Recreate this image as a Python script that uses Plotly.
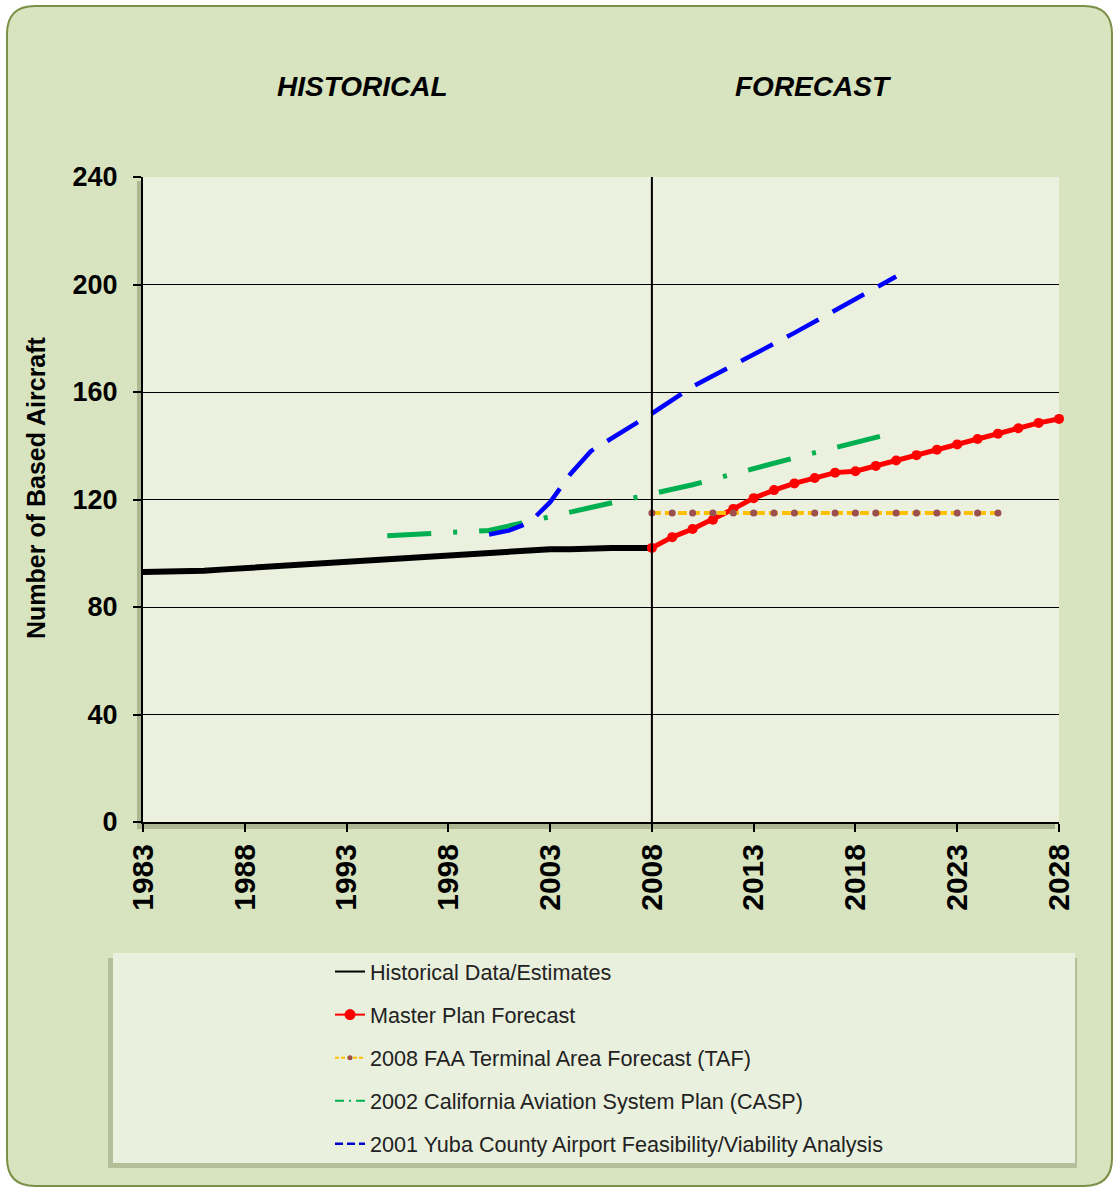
import plotly.graph_objects as go

# ---------------- data ----------------
hist_years = list(range(1983, 2009))
hist_vals = [93, 93, 93, 93.5, 94, 94.5, 94.5, 95, 95.5, 96,
             96.5, 97.5, 98, 98.5, 99, 99.5, 100, 100, 100.5, 101,
             101.5, 101.5, 102, 102, 102, 102]

master_years = list(range(2008, 2029))
master_vals = [102, 106, 109, 112.5, 116.5, 120.5, 123.5, 126, 128, 130,
               130.5, 132.5, 134.5, 136.5, 138.5, 140.5, 142.5, 144.5, 146.5, 148.5, 150]

taf_years = list(range(2008, 2026))
taf_vals = [115, 115, 115, 115, 115, 115, 115, 115, 115,
            115, 115, 115, 115, 115, 115, 115, 115, 115]

casp_years = [1995, 2000, 2005, 2010, 2015, 2020]
casp_vals = [106.5, 108.5, 117, 125.5, 135.5, 145]

yuba_years = [2000, 2001, 2002, 2003, 2004, 2005, 2008, 2010, 2015, 2020]
yuba_vals = [107, 108.5, 111.5, 119, 129.5, 138, 152, 162, 182, 203]

x_ticks = [1983, 1988, 1993, 1998, 2003, 2008, 2013, 2018, 2023, 2028]
y_ticks = [0, 40, 80, 120, 160, 200, 240]
grid_vals = [40, 80, 120, 160, 200]
divider_year = 2008

names = ["Historical Data/Estimates", "Master Plan Forecast",
         "2008 FAA Terminal Area Forecast (TAF)",
         "2002 California Aviation System Plan (CASP)",
         "2001 Yuba County Airport Feasibility/Viability Analysis"]

# ---------------- geometry helpers (pixels -> paper) ----------------
W, H = 1115, 1188
ML, MR, MT, MB = 143, 56, 177, 366
PW, PH = W - ML - MR, H - MT - MB


def px(x):
    return (x - ML) / PW


def py(y):
    return (H - MB - y) / PH


def rounded_rect(x0, y0, x1, y1, r):
    pts = [
        f"M {px(x0 + r)},{py(y0)}",
        f"L {px(x1 - r)},{py(y0)}",
        f"Q {px(x1)},{py(y0)} {px(x1)},{py(y0 + r)}",
        f"L {px(x1)},{py(y1 - r)}",
        f"Q {px(x1)},{py(y1)} {px(x1 - r)},{py(y1)}",
        f"L {px(x0 + r)},{py(y1)}",
        f"Q {px(x0)},{py(y1)} {px(x0)},{py(y1 - r)}",
        f"L {px(x0)},{py(y0 + r)}",
        f"Q {px(x0)},{py(y0)} {px(x0 + r)},{py(y0)}",
        "Z",
    ]
    return " ".join(pts)


FONT = "Liberation Sans, Arial, sans-serif"

COL_HIST = "#000000"
COL_MASTER = "#ff0000"
COL_TAF = "#ffc000"
COL_TAF_MK = "#9b4f4f"
COL_CASP = "#00b050"
COL_YUBA = "#0000ff"

fig = go.Figure()

# ---- data traces ----
fig.add_trace(go.Scatter(
    x=hist_years, y=hist_vals, name=names[0], mode="lines", showlegend=False,
    line=dict(color=COL_HIST, width=6), cliponaxis=False))

fig.add_trace(go.Scatter(
    x=master_years, y=master_vals, name=names[1], mode="lines+markers", showlegend=False,
    line=dict(color=COL_MASTER, width=5),
    marker=dict(color=COL_MASTER, size=10, symbol="circle"), cliponaxis=False))

fig.add_trace(go.Scatter(
    x=taf_years, y=taf_vals, name=names[2], mode="lines+markers", showlegend=False,
    line=dict(color=COL_TAF, width=4, dash="9px,4px"),
    marker=dict(color=COL_TAF_MK, size=7, symbol="circle"), cliponaxis=False))

fig.add_trace(go.Scatter(
    x=casp_years, y=casp_vals, name=names[3], mode="lines", showlegend=False,
    line=dict(color=COL_CASP, width=5, dash="44px,22px,4px,22px"), cliponaxis=False))

fig.add_trace(go.Scatter(
    x=yuba_years, y=yuba_vals, name=names[4], mode="lines", showlegend=False,
    line=dict(color=COL_YUBA, width=4.5, dash="36px,16px"), cliponaxis=False))

# ---- legend entries (thin line samples, as in the original legend) ----
legend_styles = [
    dict(mode="lines", line=dict(color=COL_HIST, width=2)),
    dict(mode="lines+markers", line=dict(color=COL_MASTER, width=2),
         marker=dict(color=COL_MASTER, size=11)),
    dict(mode="lines+markers", line=dict(color=COL_TAF, width=2, dash="4px,2px"),
         marker=dict(color=COL_TAF_MK, size=5)),
    dict(mode="lines", line=dict(color=COL_CASP, width=2, dash="9px,5px,2px,5px")),
    dict(mode="lines", line=dict(color="#0000cc", width=2.5, dash="8px,4px")),
]
for i, (nm, st) in enumerate(zip(names, legend_styles)):
    fig.add_trace(go.Scatter(x=[None], y=[None], name=nm, legendgroup=f"g{i}",
                             hoverinfo="skip", **st))

# gridline overlay axis (no line at top of plot)
fig.add_trace(go.Scatter(x=[x_ticks[0]], y=[0], yaxis="y2", mode="markers",
                         marker=dict(opacity=0), showlegend=False, hoverinfo="skip"))

shapes = [
    # outer rounded panel
    dict(type="path", xref="paper", yref="paper", layer="below",
         path=rounded_rect(7, 6, 1112, 1186, 28),
         fillcolor="#d8e3bf", line=dict(color="#7b8f47", width=2)),
    # plot shadow
    dict(type="rect", xref="paper", yref="paper", layer="below",
         x0=px(137), x1=px(1055), y0=py(829), y1=py(181),
         fillcolor="rgba(70,80,40,0.30)", line=dict(width=0)),
    # plot background
    dict(type="rect", xref="paper", yref="paper", layer="below",
         x0=0, x1=1, y0=0, y1=1, fillcolor="#ebf0df", line=dict(width=0)),
    # legend shadow
    dict(type="rect", xref="paper", yref="paper", layer="below",
         x0=px(108), x1=px(1077), y0=py(1168), y1=py(958),
         fillcolor="rgba(70,80,40,0.25)", line=dict(width=0)),
    # legend box
    dict(type="rect", xref="paper", yref="paper", layer="below",
         x0=px(113), x1=px(1075), y0=py(1163), y1=py(953),
         fillcolor="#e9f0dd", line=dict(width=0)),
    # divider between historical and forecast
    dict(type="line", xref="x", yref="paper", x0=divider_year, x1=divider_year,
         y0=0, y1=1, line=dict(color="#000000", width=2)),
]

annotations = [
    dict(text="<b><i>HISTORICAL</i></b>", xref="paper", yref="paper",
         x=px(362), y=py(87), xanchor="center", yanchor="middle", showarrow=False,
         font=dict(family=FONT, size=28, color="#000000")),
    dict(text="<b><i>FORECAST</i></b>", xref="paper", yref="paper",
         x=px(813), y=py(87), xanchor="center", yanchor="middle", showarrow=False,
         font=dict(family=FONT, size=28, color="#000000")),
    dict(text="<b>Number of Based Aircraft</b>", xref="paper", yref="paper",
         x=px(36), y=py(488), xanchor="center", yanchor="middle", showarrow=False,
         textangle=-90, font=dict(family=FONT, size=25, color="#000000")),
]

fig.update_layout(
    width=W, height=H,
    margin=dict(l=ML, r=MR, t=MT, b=MB, pad=0),
    paper_bgcolor="#ffffff", plot_bgcolor="rgba(0,0,0,0)",
    font=dict(family=FONT, color="#000000"),
    shapes=shapes, annotations=annotations,
    showlegend=True,
    legend=dict(x=px(330), y=py(951), xanchor="left", yanchor="top",
                bgcolor="rgba(0,0,0,0)", borderwidth=0,
                font=dict(family=FONT, size=21.6, color="#222222"),
                tracegroupgap=12, traceorder="grouped"),
    xaxis=dict(range=[1983, 2028], tickvals=x_ticks, ticktext=[str(t) for t in x_ticks],
               tickangle=-90, showgrid=False, zeroline=False,
               showline=True, linecolor="#000000", linewidth=2,
               ticks="outside", ticklen=8, tickwidth=1.5, tickcolor="#000000",
               tickfont=dict(family=FONT, size=30, color="#000000", weight="bold")),
    yaxis=dict(range=[0, 240], tickvals=y_ticks, showgrid=False, zeroline=False,
               showline=True, linecolor="#000000", linewidth=2,
               ticks="outside", ticklen=8, tickwidth=1.5, tickcolor="#000000",
               ticklabelstandoff=10,
               tickfont=dict(family=FONT, size=27, color="#000000", weight="bold")),
    yaxis2=dict(range=[0, 240], overlaying="y", tickvals=grid_vals, showgrid=True,
                gridcolor="#000000", gridwidth=1, showticklabels=False, ticks="",
                zeroline=False, showline=False),
)

fig.write_html("out.html")
